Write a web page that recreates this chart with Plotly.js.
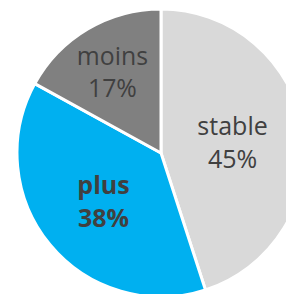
<!DOCTYPE html>
<html><head><meta charset="utf-8">
<script src="https://cdn.plot.ly/plotly-3.0.1.min.js"></script>
<style>html,body{margin:0;padding:0;overflow:hidden;background:#fff;width:286px;height:294px}</style>
</head><body><div id="chart"></div>
<script>
const labels = ["stable", "plus", "moins"];
const values = [45, 38, 17];
const colors = ["#d9d9d9", "#00b0f0", "#808080"];
const templates = ["%{label}<br>%{percent}", "<b>%{label}<br>%{percent}</b>", "%{label}<br>%{percent}"];

const W = 322, H = 308, cx = 161, cy = 153, r = 144;
Plotly.newPlot("chart", [{
  type: "pie",
  labels: labels,
  values: values,
  sort: false,
  direction: "clockwise",
  rotation: 0,
  marker: {colors: colors, line: {color: "#ffffff", width: 3}},
  texttemplate: templates,
  textposition: "inside",
  insidetextorientation: "horizontal",
  textfont: {family: "Open Sans, sans-serif", size: 25, color: "#404040"},
  hoverinfo: "none",
  showlegend: false,
  domain: {x: [(cx - r) / W, (cx + r) / W], y: [(H - cy - r) / H, (H - cy + r) / H]}
}], {
  width: W, height: H,
  margin: {l: 0, r: 0, t: 0, b: 0},
  paper_bgcolor: "#ffffff",
  showlegend: false
}, {displayModeBar: false, staticPlot: true});
</script></body></html>
